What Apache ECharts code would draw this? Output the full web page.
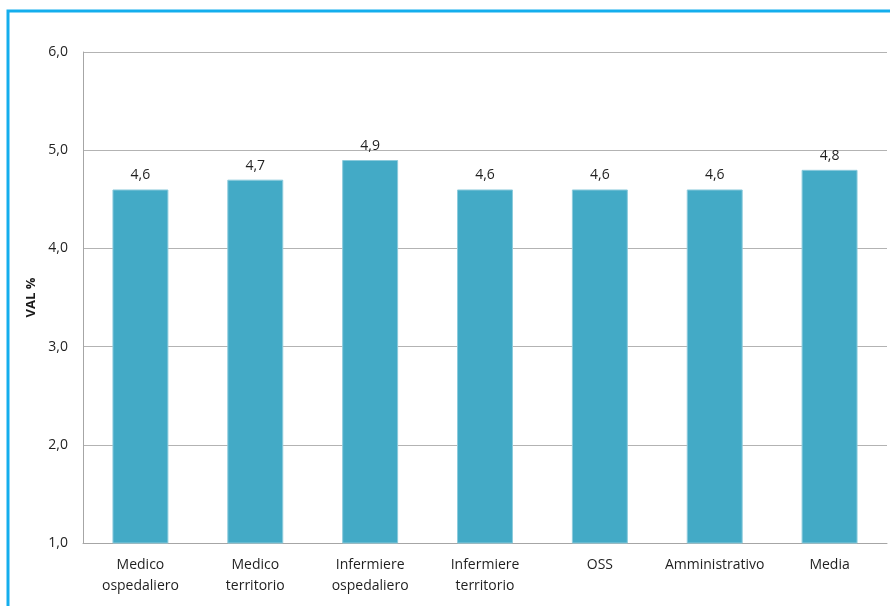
<!DOCTYPE html>
<html>
<head>
<meta charset="utf-8">
<script src="https://cdn.jsdelivr.net/npm/echarts@6/dist/echarts.min.js"></script>
<style>html,body{margin:0;padding:0;background:#fff;}#c{width:890px;height:606px;}</style>
</head>
<body>
<div id="c"></div>
<script>
const categories = ['Medico\nospedaliero', 'Medico\nterritorio', 'Infermiere\nospedaliero', 'Infermiere\nterritorio', 'OSS', 'Amministrativo', 'Media'];
const values = [4.6, 4.7, 4.9, 4.6, 4.6, 4.6, 4.8];
const yAxisName = 'VAL %';
const yMin = 1, yMax = 6, yStep = 1;

const fmt = v => Number(v).toFixed(1).replace('.', ',');
const FONT = '"Open Sans", Lato, sans-serif';

const chart = echarts.init(document.getElementById('c'), null, {renderer: 'canvas'});
chart.setOption({
  animation: false,
  backgroundColor: '#ffffff',
  grid: {left: 83, right: 3, top: 52, bottom: 63, containLabel: false},
  xAxis: {
    type: 'category',
    data: categories,
    axisLine: {show: true, lineStyle: {color: '#a6a6a6', width: 1}},
    axisTick: {show: false},
    axisLabel: {color: '#1f1f1f', fontSize: 14, fontFamily: FONT, lineHeight: 21, margin: 12, interval: 0}
  },
  yAxis: {
    type: 'value',
    min: yMin, max: yMax, interval: yStep,
    name: yAxisName,
    nameLocation: 'middle',
    nameGap: 44,
    nameRotate: 90,
    nameTextStyle: {color: '#1a1a1a', fontSize: 13, fontWeight: 'bold', fontFamily: FONT},
    axisLine: {show: true, lineStyle: {color: '#a6a6a6', width: 1}},
    axisTick: {show: false},
    splitLine: {show: true, lineStyle: {color: '#b3b3b3', width: 1}},
    axisLabel: {color: '#1f1f1f', fontSize: 14, fontFamily: FONT, margin: 15, formatter: fmt}
  },
  series: [{
    type: 'bar',
    data: values,
    barWidth: '48.7%',
    itemStyle: {color: '#43aac6', borderColor: '#8ccbdc', borderWidth: 1},
    label: {show: true, position: 'top', distance: 7, color: '#1f1f1f', fontSize: 14, fontFamily: FONT, formatter: p => fmt(p.value)}
  }],
  graphic: [{
    type: 'polyline',
    shape: {points: [[8, 606], [8, 11], [890, 11]]},
    style: {stroke: '#14aeed', lineWidth: 3, fill: null},
    silent: true
  }]
});
</script>
</body>
</html>
